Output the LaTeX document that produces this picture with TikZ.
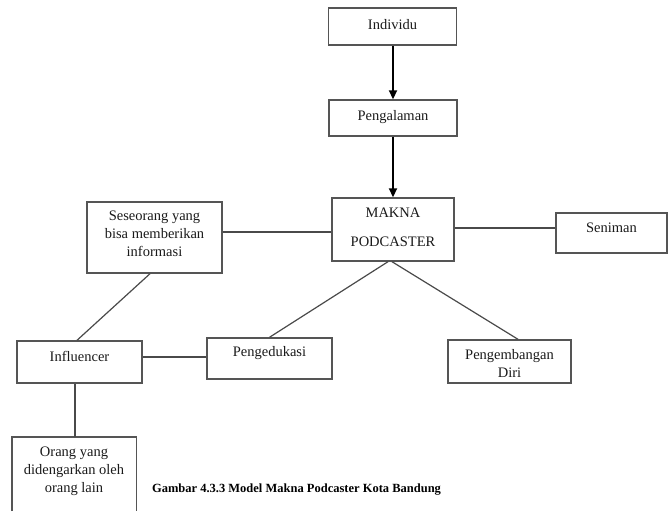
\documentclass[tikz,border=0pt]{standalone}
\usepackage{fontspec}
\setmainfont{Liberation Serif}
\usetikzlibrary{arrows.meta}
\definecolor{boxline}{HTML}{555555}
\definecolor{conline}{HTML}{4A4A4A}
\definecolor{txtcol}{HTML}{1A1A1A}
\begin{document}
\begin{tikzpicture}[x=1pt,y=-1pt,
  box/.style={draw=boxline,line width=1.4pt,rectangle,inner sep=0pt},
  openbox/.style={rectangle,inner sep=0pt},
  txt/.style={text=txtcol,font=\fontsize{14.5}{18}\selectfont,align=center,inner sep=0pt},
  conn/.style={draw=conline,line width=1.2pt},
  arr/.style={draw=black,line width=1.8pt,-{Triangle[length=9pt,width=8pt]}},
  captxt/.style={text=black,font=\fontsize{12.5}{15}\selectfont\bfseries,inner sep=0pt}]
\useasboundingbox[fill=white] (0,0) rectangle (668,511);

% boxes
\node[box,minimum width=128pt,minimum height=37pt] (ind) at (392.5,26.5) {};
\node[box,minimum width=128pt,minimum height=36pt] (peng) at (393,118) {};
\node[box,minimum width=122pt,minimum height=63pt] (makna) at (393,229.5) {};
\node[box,minimum width=135pt,minimum height=71pt] (ses) at (154.5,237.5) {};
\node[box,minimum width=111pt,minimum height=40pt] (sen) at (611.5,233) {};
\node[box,minimum width=125pt,minimum height=41pt] (pedu) at (269.5,358.5) {};
\node[box,minimum width=125pt,minimum height=42pt] (infl) at (79.5,362) {};
\node[box,minimum width=123pt,minimum height=43pt] (pdiri) at (509.5,361.5) {};
\node[openbox,minimum width=124pt,minimum height=74pt] (orang) at (74,474) {};
\draw[boxline,line width=1.4pt] (orang.south west) -- (orang.north west) -- (orang.north east) -- (orang.south east);

% texts
\node[txt] (ind-t) at (392.5,25) {Individu};
\node[txt] (peng-t) at (393,117) {Pengalaman};
\node[txt] (makna-t1) at (393,213) {MAKNA};
\node[txt] (makna-t2) at (393,242) {PODCASTER};
\node[txt] (ses-t) at (154.5,233.5) {Seseorang yang\\bisa memberikan\\informasi};
\node[txt] (sen-t) at (611.5,228) {Seniman};
\node[txt] (pedu-t) at (269.5,353) {Pengedukasi};
\node[txt] (infl-t) at (79.5,356) {Influencer};
\node[txt] (pdiri-t) at (509.5,363.5) {Pengembangan\\Diri};
\node[txt] (orang-t) at (74,471) {Orang yang\\didengarkan oleh\\orang lain};

% connectors
\draw[arr] ([xshift=0.5pt]ind.south) -- (peng.north);
\draw[arr] (peng.south) -- (makna.north);
\draw[conn] ([yshift=5.5pt]ses.east) -- ([yshift=5.5pt]ses.east -| makna.west);
\draw[conn] ([yshift=1.5pt]makna.east) -- ([yshift=1.5pt]makna.east -| sen.west);
\draw[conn] ([xshift=-5pt]makna.south) -- (pedu.north);
\draw[conn] ([xshift=-1pt]makna.south) -- ([xshift=8.5pt]pdiri.north);
\draw[conn] ([xshift=-4.5pt]ses.south) -- ([xshift=-2.5pt]infl.north);
\draw[conn] ([yshift=5pt]infl.east) -- ([yshift=5pt]infl.east -| pedu.west);
\draw[conn] ([xshift=-4.5pt]infl.south) -- ([xshift=-4.5pt]infl.south |- orang.north);

% caption
\node[captxt] (caption) at (296.5,490) {Gambar 4.3.3 Model Makna Podcaster Kota Bandung};
\end{tikzpicture}
\end{document}
